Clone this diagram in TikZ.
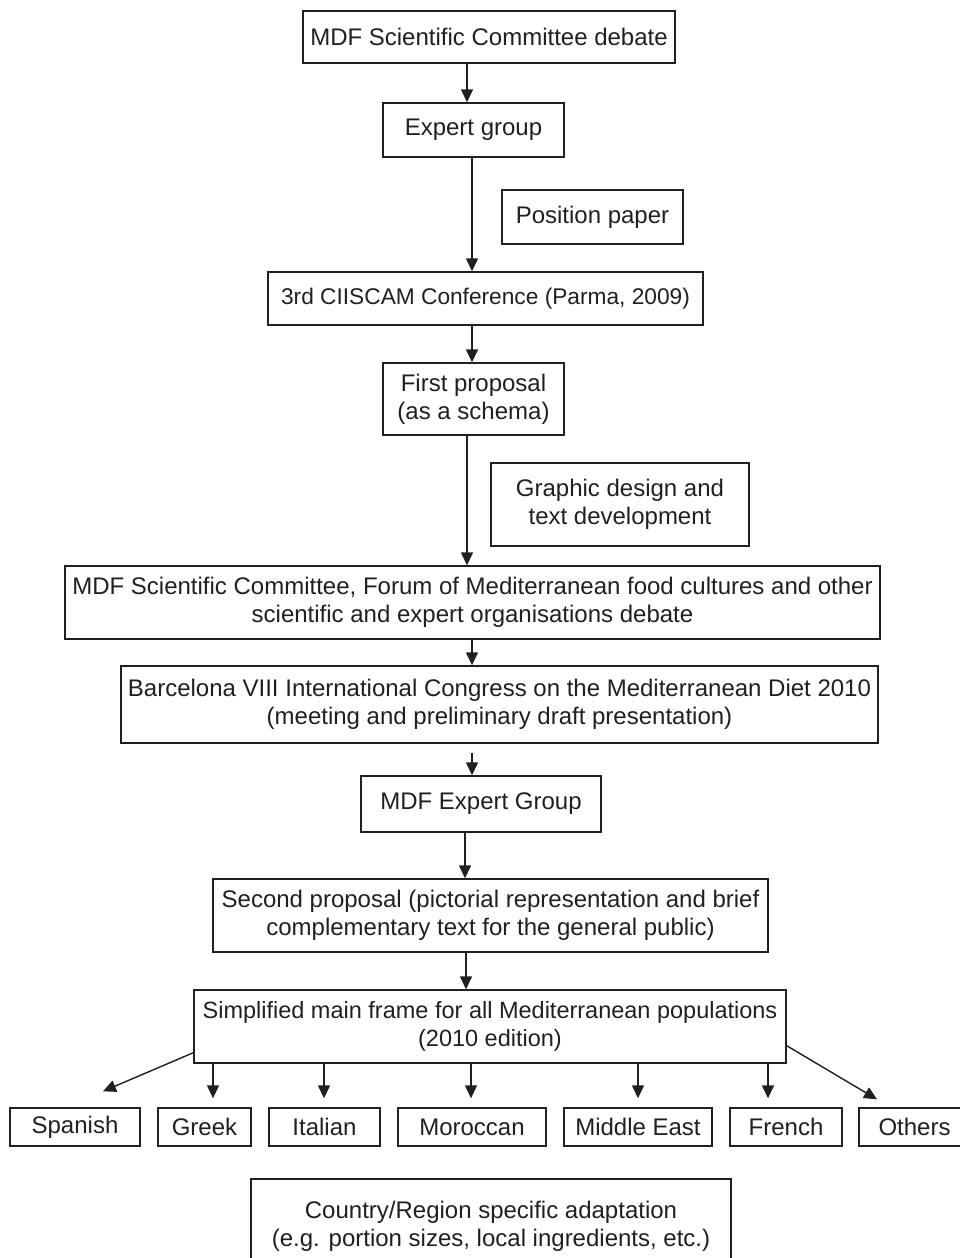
\documentclass[tikz,border=0pt]{standalone}
\usepackage{fontspec}
\setmainfont{Liberation Sans}
\usetikzlibrary{arrows.meta,calc}
\definecolor{ink}{HTML}{231F20}
\begin{document}
\begin{tikzpicture}[x=1pt,y=-1pt,
  box/.style={draw=ink,line width=1.4pt,text=ink,inner sep=0pt,align=center,font=\fontsize{24}{28}\selectfont},
  arr/.style={draw=ink,line width=1.4pt,-{Triangle[length=13pt,width=12pt]}}]
\useasboundingbox (0,0) rectangle (960,1258);
\clip (0,0) rectangle (960,1258);
\fill[white] (0,0) rectangle (960,1258);
% boxes
\node[box,minimum width=372pt,minimum height=52pt] (top) at (489,37) {MDF Scientific Committee debate};
\node[box,minimum width=181pt,minimum height=54pt] (expert) at (473.5,130) {Expert group};
\node[box,minimum width=181pt,minimum height=54pt] (position) at (592.5,217) {Position paper};
\node[box,font=\fontsize{22.7}{28}\selectfont,minimum width=435pt,minimum height=53pt] (ciiscam) at (485.5,298.5) {3rd CIISCAM Conference (Parma, 2009)};
\node[box,minimum width=181pt,minimum height=72pt] (first) at (473.5,399) {First proposal\\(as a schema)};
\node[box,minimum width=258pt,minimum height=83pt] (graphic) at (620,504.5) {Graphic design and\\text development};
\node[box,minimum width=815pt,minimum height=73pt] (forum) at (472.5,602.5) {MDF Scientific Committee, Forum of Mediterranean food cultures and other\\scientific and expert organisations debate};
\node[box,minimum width=757pt,minimum height=77pt] (barcelona) at (499.5,704.5) {Barcelona VIII International Congress on the Mediterranean Diet 2010\\(meeting and preliminary draft presentation)};
\node[box,minimum width=240pt,minimum height=56pt] (mdfexp) at (481,804) {MDF Expert Group};
\node[box,minimum width=555pt,minimum height=73pt] (second) at (490.5,915.5) {Second proposal (pictorial representation and brief\\complementary text for the general public)};
\node[box,font=\fontsize{23.5}{28}\selectfont,minimum width=592pt,minimum height=73pt] (simplified) at (490,1026.5) {Simplified main frame for all Mediterranean populations\\(2010 edition)};
\node[box,minimum width=130pt,minimum height=38pt] (spanish) at (75,1127) {Spanish};
\node[box,minimum width=93pt,minimum height=38pt] (greek) at (204.5,1127) {Greek};
\node[box,minimum width=111pt,minimum height=38pt] (italian) at (324.5,1127) {Italian};
\node[box,minimum width=148pt,minimum height=38pt] (moroccan) at (472,1127) {Moroccan};
\node[box,minimum width=148pt,minimum height=38pt] (mideast) at (638,1127) {Middle East};
\node[box,minimum width=112pt,minimum height=38pt] (french) at (786,1127) {French};
\node[box,minimum width=111pt,minimum height=38pt] (others) at (914.5,1127) {Others};
\node[box,minimum width=480pt,minimum height=95pt] (country) at (491,1226.5) {Country/Region specific adaptation\\(e.g. portion sizes, local ingredients, etc.)};
% connector columns
\coordinate (xa) at (467,0);
\coordinate (xb) at (472,0);
\coordinate (xc) at (465,0);
\coordinate (xd) at (466,0);
\coordinate (xg) at (213,0);
\coordinate (xi) at (324,0);
\coordinate (xm) at (471,0);
\coordinate (xe) at (638,0);
\coordinate (xf) at (768,0);
% connectors
\draw[arr] (top.south -| xa) -- (expert.north -| xa);
\draw[arr] (expert.south -| xb) -- (ciiscam.north -| xb);
\draw[arr] (ciiscam.south -| xb) -- (first.north -| xb);
\draw[arr] (first.south -| xa) -- (forum.north -| xa);
\draw[arr] (forum.south -| xb) -- (barcelona.north -| xb);
\draw[arr] ($(barcelona.south -| xb)+(0,9)$) -- (mdfexp.north -| xb);
\draw[arr] (mdfexp.south -| xc) -- (second.north -| xc);
\draw[arr] (second.south -| xd) -- (simplified.north -| xd);
\draw[arr,shorten >=9pt] (simplified.south -| xg) -- (greek.north -| xg);
\draw[arr,shorten >=9pt] (simplified.south -| xi) -- (italian.north -| xi);
\draw[arr,shorten >=9pt] (simplified.south -| xm) -- (moroccan.north -| xm);
\draw[arr,shorten >=9pt] (simplified.south -| xe) -- (mideast.north -| xe);
\draw[arr,shorten >=9pt] (simplified.south -| xf) -- (french.north -| xf);
\draw[arr] ($(simplified.south west)+(0,-11)$) -- ($(spanish.north)+(28,-16)$);
\draw[arr] ($(simplified.south east)+(0,-18)$) -- ($(others.north)+(-37.5,-8)$);
\end{tikzpicture}
\end{document}
